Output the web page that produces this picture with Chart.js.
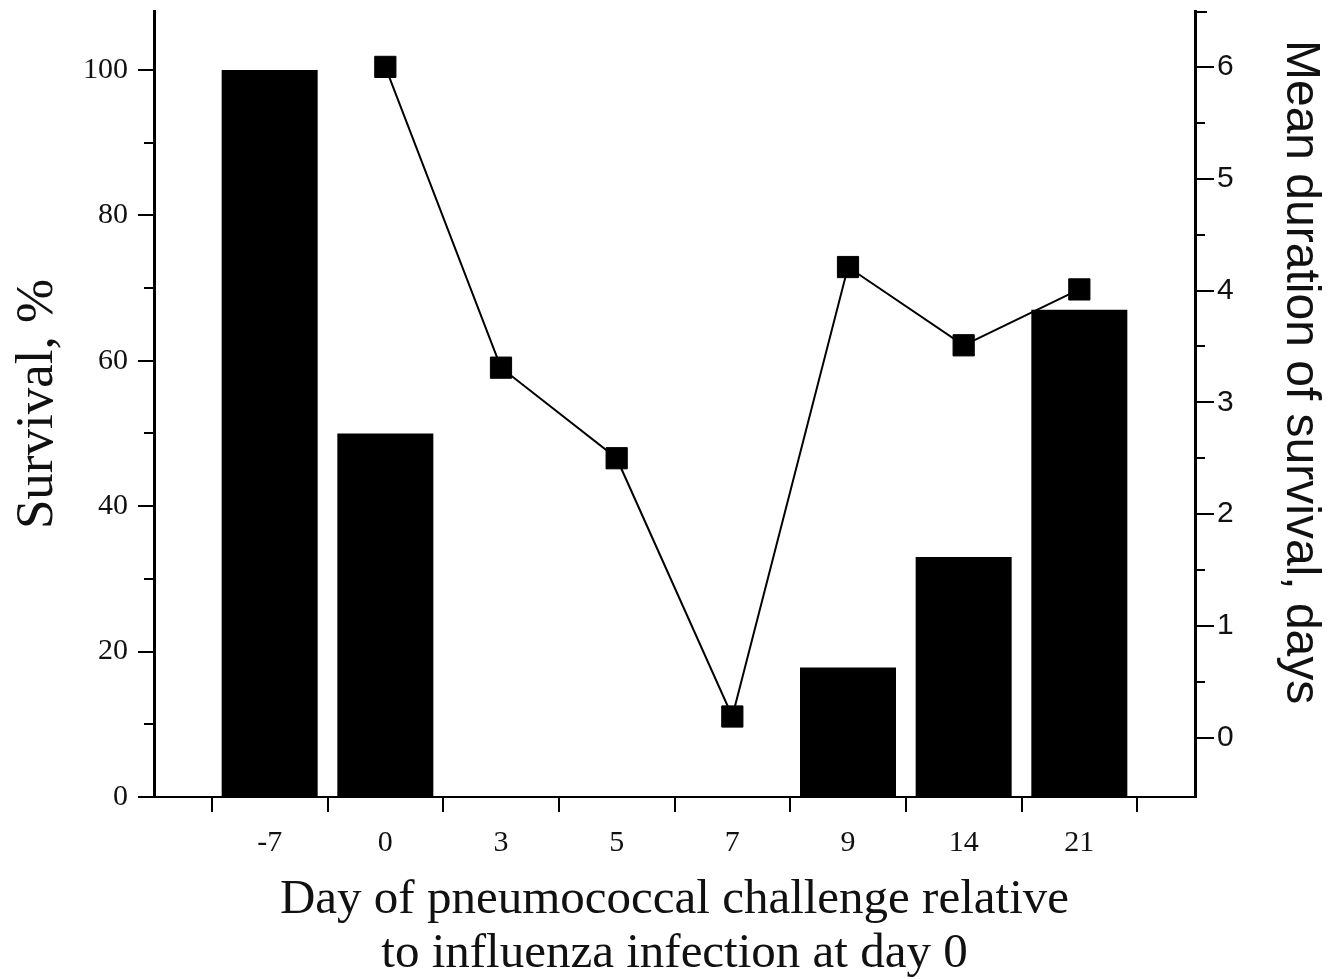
<!DOCTYPE html>
<html>
<head>
<meta charset="utf-8">
<script src="https://cdn.jsdelivr.net/npm/chart.js@4"></script>
<style>
  html, body { margin: 0; padding: 0; background: #fff; }
  #wrap { width: 1327px; height: 979px; }
</style>
</head>
<body>
<div id="wrap"><canvas id="chart" width="1327" height="979"></canvas></div>
<script>
// data
const days = ['-7', '0', '3', '5', '7', '9', '14', '21'];
const survival = [100, 50, 0, 0, 0, 17.8, 33, 67];          // %, left axis
const meanDuration = [null, 6.0, 3.31, 2.5, 0.19, 4.21, 3.51, 4.01]; // days, right axis
const survivalTicks = [0, 20, 40, 60, 80, 100];
const durationTicks = [0, 1, 2, 3, 4, 5, 6];
const rightTitle = 'Mean duration of survival, days';

const serif = '"Liberation Serif", "Times New Roman", serif';
const sans = '"Liberation Sans", Arial, sans-serif';

// short tick marks like the original plot (major + minor), plus the right-hand title
const tickMarks = {
  id: 'tickMarks',
  afterDraw(chart) {
    const { ctx, scales: { x, y, y2 } } = chart;
    ctx.save();
    ctx.strokeStyle = '#000';
    ctx.lineWidth = 2;
    ctx.beginPath();
    for (let v = 0; v <= 100; v += 10) {
      const py = Math.round(y.getPixelForValue(v));
      const len = v % 20 === 0 ? 16 : 10;
      ctx.moveTo(y.right - len, py);
      ctx.lineTo(y.right, py);
    }
    for (let v = 0; v <= 6; v += 0.5) {
      const py = Math.round(y2.getPixelForValue(v));
      const len = Number.isInteger(v) ? 19 : 10;
      ctx.moveTo(y2.left, py);
      ctx.lineTo(y2.left + len, py);
    }
    // little cap at the top of the right axis
    ctx.moveTo(y2.left, y2.top + 1);
    ctx.lineTo(y2.left + 12, y2.top + 1);
    for (let i = 0; i <= days.length; i++) {
      const px = Math.round(x.getPixelForValue(i - 0.5));
      ctx.moveTo(px, x.top);
      ctx.lineTo(px, x.top + 15);
    }
    ctx.stroke();

    // right axis title sits a bit above the axis centre in the original
    ctx.translate(y2.right - 27, y2.getPixelForValue(3.27));
    ctx.rotate(Math.PI / 2);
    ctx.fillStyle = '#111';
    ctx.font = '48px ' + sans;
    ctx.textAlign = 'center';
    ctx.textBaseline = 'middle';
    ctx.fillText(rightTitle, 0, 0);
    ctx.restore();
  }
};

const ctx = document.getElementById('chart');

new Chart(ctx, {
  type: 'bar',
  data: {
    datasets: [
      {
        type: 'line',
        label: 'Mean duration of survival',
        data: meanDuration.map((v, i) => ({ x: i, y: v })),
        yAxisID: 'y2',
        borderColor: '#000',
        borderWidth: 2,
        pointStyle: 'rect',
        pointRadius: 15,
        pointBackgroundColor: '#000',
        pointBorderColor: '#000',
        pointBorderWidth: 1,
        tension: 0,
        clip: false,
        order: 1
      },
      {
        label: 'Survival',
        data: survival.map((v, i) => ({ x: i, y: v })),
        yAxisID: 'y',
        backgroundColor: '#000',
        borderWidth: 0,
        barPercentage: 0.83,
        categoryPercentage: 1,
        order: 2
      }
    ]
  },
  options: {
    responsive: false,
    animation: false,
    layout: { autoPadding: false, padding: { top: 11, left: 0, right: 0, bottom: 0 } },
    plugins: {
      legend: { display: false },
      tooltip: { enabled: false }
    },
    scales: {
      x: {
        type: 'linear',
        position: 'bottom',
        min: -1,
        max: 8,
        offset: false,
        afterBuildTicks: (s) => { s.ticks = days.map((d, i) => ({ value: i })); },
        afterFit: (s) => { s.height = 182; s.paddingLeft = 0; s.paddingRight = 0; },
        grid: { display: false, drawTicks: false },
        border: { display: true, color: '#000', width: 2 },
        ticks: {
          autoSkip: false,
          maxRotation: 0,
          padding: 28,
          color: '#111',
          font: { family: serif, size: 30 },
          callback: (v) => days[v]
        },
        title: {
          display: true,
          text: ['Day of pneumococcal challenge relative', 'to influenza infection at day 0'],
          color: '#111',
          font: { family: serif, size: 49, lineHeight: 1.12 },
          padding: { top: 0, bottom: -3 }
        }
      },
      y: {
        type: 'linear',
        position: 'left',
        min: 0,
        max: 108.1,
        afterBuildTicks: (s) => { s.ticks = survivalTicks.map(v => ({ value: v })); },
        afterFit: (s) => { s.width = 154; s.paddingTop = 0; s.paddingBottom = 0; },
        grid: { display: false, drawTicks: false },
        border: { display: true, color: '#000', width: 3 },
        ticks: {
          padding: 26,
          color: '#111',
          font: { family: serif, size: 30 }
        },
        title: {
          display: true,
          text: 'Survival, %',
          color: '#111',
          font: { family: serif, size: 53, lineHeight: 1.2 },
          padding: { top: 6, bottom: 0 }
        }
      },
      y2: {
        type: 'linear',
        position: 'right',
        min: -0.53,
        max: 6.5,
        afterBuildTicks: (s) => { s.ticks = durationTicks.map(v => ({ value: v })); },
        afterFit: (s) => { s.width = 132; s.paddingTop = 0; s.paddingBottom = 0; },
        grid: { display: false, drawTicks: false },
        border: { display: true, color: '#000', width: 3 },
        ticks: {
          padding: 22,
          color: '#111',
          font: { family: sans, size: 30 }
        },
        title: { display: false }
      }
    }
  },
  plugins: [tickMarks]
});
</script>
</body>
</html>
